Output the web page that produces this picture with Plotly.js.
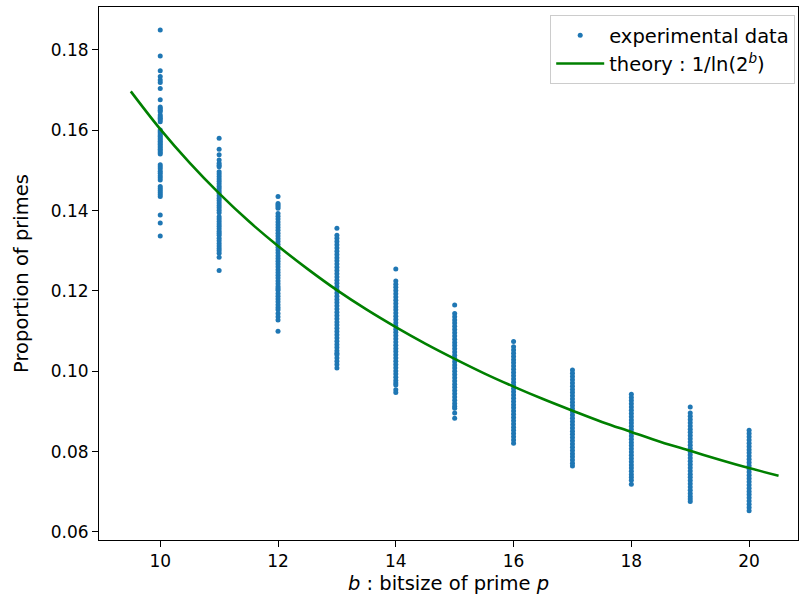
<!DOCTYPE html>
<html>
<head>
<meta charset="utf-8">
<script src="https://cdn.plot.ly/plotly-3.0.1.min.js"></script>
<style>html,body{margin:0;padding:0;background:#fff;}#chart{width:800px;height:600px;}</style>
</head>
<body>
<div id="chart"></div>
<script>
const bitsizes = [10, 11, 12, 13, 14, 15, 16, 17, 18, 19, 20];
const b10 = [0.1850,0.1785,0.1748,0.1734,0.1725,0.1719,0.1704,0.1676,0.1658,0.1654,0.1650,0.1646,0.1638,0.1634,0.1630,0.1626,0.1621,0.1601,0.1597,0.1593,0.1589,0.1585,0.1581,0.1577,0.1573,0.1569,0.1565,0.1561,0.1557,0.1553,0.1549,0.1545,0.1541,0.1514,0.1509,0.1504,0.1498,0.1493,0.1487,0.1482,0.1476,0.1460,0.1455,0.1450,0.1445,0.1440,0.1435,0.1389,0.1369,0.1337];
const b11 = [0.1580,0.1553,0.1539,0.1526,0.1518,0.1513,0.1509,0.1497,0.1491,0.1485,0.1479,0.1473,0.1467,0.1461,0.1455,0.1449,0.1443,0.1437,0.1431,0.1425,0.1419,0.1413,0.1407,0.1401,0.1395,0.1385,0.1379,0.1373,0.1367,0.1361,0.1355,0.1349,0.1344,0.1339,0.1331,0.1325,0.1318,0.1312,0.1306,0.1300,0.1294,0.1284,0.1251];
const b12 = [0.1435,0.1418,0.1414,0.1410,0.1406,0.1393,0.1386,0.1379,0.1372,0.1365,0.1358,0.1351,0.1344,0.1337,0.1330,0.1323,0.1316,0.1309,0.1302,0.1295,0.1288,0.1281,0.1274,0.1267,0.1260,0.1253,0.1246,0.1239,0.1232,0.1225,0.1218,0.1211,0.1206,0.1202,0.1194,0.1187,0.1180,0.1173,0.1166,0.1159,0.1153,0.1144,0.1136,0.1128,0.1100];
const b13 = [0.1356,0.1339,0.1331,0.1323,0.1315,0.1307,0.1299,0.1291,0.1283,0.1275,0.1267,0.1259,0.1251,0.1243,0.1235,0.1227,0.1219,0.1211,0.1203,0.1195,0.1187,0.1179,0.1171,0.1163,0.1155,0.1147,0.1139,0.1131,0.1123,0.1115,0.1107,0.1099,0.1091,0.1083,0.1075,0.1067,0.1059,0.1051,0.1045,0.1041,0.1033,0.1025,0.1017,0.1008];
const b14 = [0.1255,0.1225,0.1217,0.1209,0.1201,0.1193,0.1185,0.1177,0.1169,0.1161,0.1153,0.1145,0.1137,0.1129,0.1121,0.1113,0.1105,0.1097,0.1089,0.1081,0.1073,0.1065,0.1057,0.1049,0.1041,0.1033,0.1025,0.1017,0.1009,0.1001,0.0993,0.0985,0.0977,0.0971,0.0966,0.0954,0.0947];
const b15 = [0.1165,0.1144,0.1136,0.1128,0.1120,0.1112,0.1104,0.1096,0.1088,0.1080,0.1072,0.1064,0.1056,0.1048,0.1040,0.1032,0.1024,0.1016,0.1008,0.1000,0.0992,0.0984,0.0976,0.0968,0.0960,0.0952,0.0944,0.0936,0.0928,0.0920,0.0913,0.0908,0.0896,0.0883];
const b16 = [0.1074,0.1061,0.1053,0.1045,0.1037,0.1029,0.1021,0.1013,0.1005,0.0997,0.0989,0.0981,0.0973,0.0965,0.0957,0.0949,0.0941,0.0933,0.0925,0.0917,0.0909,0.0901,0.0893,0.0885,0.0877,0.0869,0.0861,0.0853,0.0845,0.0837,0.0829,0.0821];
const b17 = [0.1003,0.0995,0.0987,0.0979,0.0971,0.0963,0.0955,0.0947,0.0939,0.0931,0.0923,0.0915,0.0907,0.0899,0.0891,0.0883,0.0875,0.0867,0.0859,0.0851,0.0843,0.0835,0.0827,0.0819,0.0811,0.0803,0.0795,0.0787,0.0779,0.0771,0.0764];
const b18 = [0.0943,0.0935,0.0927,0.0919,0.0911,0.0903,0.0895,0.0887,0.0879,0.0871,0.0863,0.0855,0.0847,0.0839,0.0831,0.0823,0.0815,0.0807,0.0799,0.0791,0.0783,0.0775,0.0767,0.0759,0.0751,0.0743,0.0736,0.0729,0.0719];
const b19 = [0.0911,0.0896,0.0888,0.0880,0.0872,0.0864,0.0856,0.0848,0.0840,0.0832,0.0824,0.0816,0.0808,0.0800,0.0792,0.0784,0.0776,0.0768,0.0760,0.0752,0.0744,0.0736,0.0728,0.0720,0.0712,0.0704,0.0696,0.0688,0.0682,0.0676];
const b20 = [0.0853,0.0845,0.0837,0.0829,0.0821,0.0813,0.0805,0.0797,0.0789,0.0781,0.0773,0.0765,0.0757,0.0749,0.0741,0.0733,0.0725,0.0717,0.0709,0.0701,0.0693,0.0685,0.0677,0.0669,0.0661,0.0653];

// Theory curve
const theoryX = [9.5,10,10.5,11,11.5,12,12.5,13,13.5,14,14.5,15,15.5,16,16.5,17,17.5,18,18.5,19,19.5,20,20.5];
const theoryY = [0.1697,0.1603,0.1519,0.1443,0.1374,0.1312,0.1255,0.1202,0.1154,0.1110,0.1069,0.1031,0.0995,0.0962,0.0931,0.0902,0.0874,0.0849,0.0824,0.0802,0.0780,0.0759,0.0740];

const yTickVals = [0.06, 0.08, 0.10, 0.12, 0.14, 0.16, 0.18];
const yTickText = ["0.06", "0.08", "0.10", "0.12", "0.14", "0.16", "0.18"];
const xTickVals = [10, 12, 14, 16, 18, 20];

const columns = [b10, b11, b12, b13, b14, b15, b16, b17, b18, b19, b20];
const expX = [], expY = [];
columns.forEach((col, i) => { col.forEach(v => { expX.push(bitsizes[i]); expY.push(v); }); });

const fam = 'DejaVu Sans, sans-serif';
const tickFont = {family: fam, size: 17, color: '#000'};
const labelFont = {family: fam, size: 19.5, color: '#000'};
const legendFont = {family: fam, size: 19.5, color: '#000'};

const traces = [
  {x: expX, y: expY, type: 'scatter', mode: 'markers', name: 'experimental data',
   marker: {color: '#1f77b4', size: 5}},
  {x: theoryX, y: theoryY, type: 'scatter', mode: 'lines', name: 'theory : 1/ln(2<sup><i>b</i></sup>)',
   line: {color: '#008000', width: 2.6, shape: 'spline'}}
];

const layout = {
  width: 800, height: 600,
  margin: {l: 99, r: 2, t: 7, b: 60},
  paper_bgcolor: '#fff', plot_bgcolor: '#fff',
  font: tickFont,
  showlegend: true,
  legend: {x: 0.996, y: 0.985, xanchor: 'right', yanchor: 'top', bgcolor: '#fff',
           bordercolor: '#cccccc', borderwidth: 1, itemwidth: 48, font: legendFont},
  xaxis: {range: [8.96, 20.83], tickvals: xTickVals, ticks: 'outside', ticklen: 6, tickwidth: 1,
          tickcolor: '#000', showline: true, mirror: true, linecolor: '#000', linewidth: 1,
          showgrid: false, zeroline: false, automargin: false, tickfont: tickFont,
          title: {text: '<i>b</i> : bitsize of prime <i>p</i>', font: labelFont, standoff: 5}},
  yaxis: {range: [0.058, 0.1907], tickvals: yTickVals, ticktext: yTickText, ticks: 'outside', ticklen: 6,
          tickwidth: 1, tickcolor: '#000', showline: true, mirror: true, linecolor: '#000', linewidth: 1,
          showgrid: false, zeroline: false, automargin: false, tickfont: tickFont,
          title: {text: 'Proportion of primes', font: labelFont, standoff: 16}}
};

Plotly.newPlot('chart', traces, layout, {displayModeBar: false, staticPlot: true});
</script>
</body>
</html>
